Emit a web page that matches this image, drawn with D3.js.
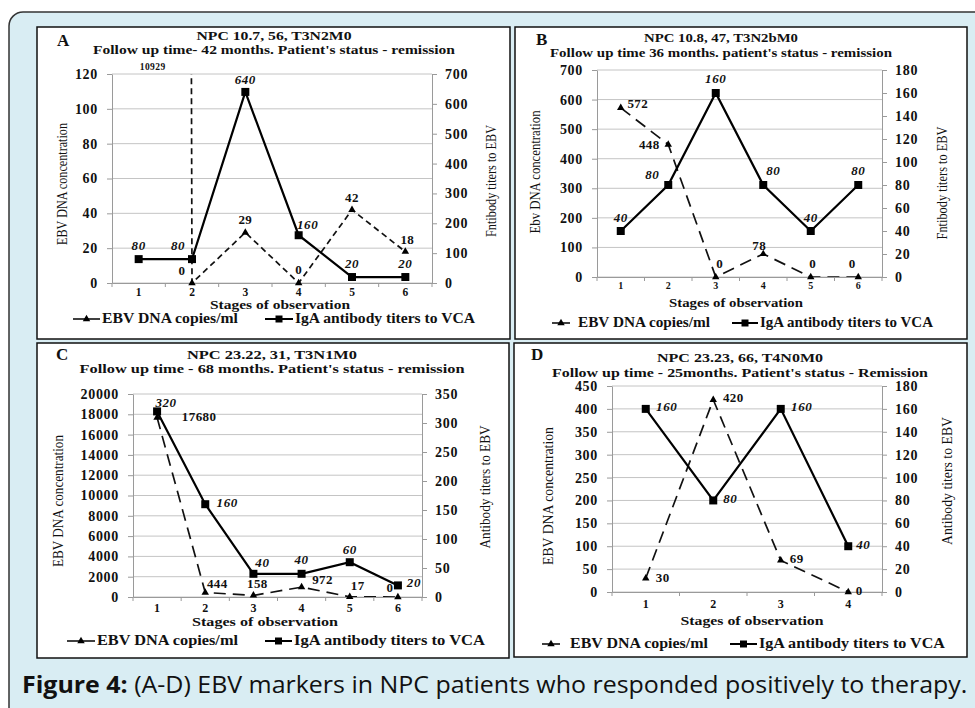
<!DOCTYPE html>
<html lang="en">
<head>
<meta charset="UTF-8">
<title>EBV markers in NPC patients</title>
<style>
  body { margin: 0; background: #fff; }
  svg text { font-family: "Liberation Serif", "Times New Roman", serif; font-weight: bold; fill: #111; }
</style>
</head>
<body>
<svg width="975" height="708"></svg>
<script src="https://d3js.org/d3.v7.min.js"></script>
<script>
// ---- data ----
const stagesA = [1, 2, 3, 4, 5, 6];
const ebvA = [10929, 0, 29, 0, 42, 18];
const igaA = [80, 80, 640, 160, 20, 20];

const stagesB = [1, 2, 3, 4, 5, 6];
const ebvB = [572, 448, 0, 78, 0, 0];
const igaB = [40, 80, 160, 80, 40, 80];

const stagesC = [1, 2, 3, 4, 5, 6];
const ebvC = [17680, 444, 158, 972, 17, 0];
const igaC = [320, 160, 40, 40, 60, 20];

const stagesD = [1, 2, 3, 4];
const ebvD = [30, 420, 69, 0];
const igaD = [160, 80, 160, 40];

const legendLabels = ["EBV DNA copies/ml", "IgA antibody titers to VCA"];
const xTitle = "Stages of observation";

const serif = "'Liberation Serif', 'Times New Roman', serif";
const svg = d3.select("svg");

// background + rounded frame
svg.append("rect").attr("width", 975).attr("height", 708).attr("fill", "#fff");
svg.append("rect")
    .attr("x", 9).attr("y", 12).attr("width", 1100).attr("height", 1000)
    .attr("rx", 14).attr("ry", 14)
    .attr("fill", "#d9edf3").attr("stroke", "#333").attr("stroke-width", 1.5);

const panels = [
  {
    letter: "A", box: [37, 27, 473, 312], letterPos: [57, 46],
    title1: "NPC 10.7, 56, T3N2M0", title2: "Follow up time- 42 months.  Patient's status - remission",
    titleX: 274, t1Y: 40, t2Y: 54, t1W: 155, t2W: 362, titleFont: 12.5,
    x0: 112, x1: 432, yTop: 74, yBot: 283,
    stages: stagesA, ebv: ebvA, iga: igaA,
    leftMax: 120, leftStep: 20, rightMax: 700, rightStep: 100, tickFont: 14,
    leftTitle: "EBV DNA concentration", lTX: 67, lTY: 184, lTL: 122,
    rightTitle: "Fntibody titers to EBV", rTX: 496, rTY: 181, rTL: 112,
    xLabY: 296, xLabFont: 11.5, xTX: 280, xTY: 309, xTW: 140,
    legY: 323, leg: [73, 100, 102, 136, 265, 293, 295, 180],
    ebvOff: [[14, -4], [-10, -8], [0, -8], [0, -9], [0, -8], [2, -8]],
    igaOff: [[0, -9], [-14, -9], [0, -8], [9, -6], [0, -9], [0, -9]],
    dash: "6,4"
  },
  {
    letter: "B", box: [515, 27, 452, 312], letterPos: [536, 45],
    title1: "NPC 10.8, 47, T3N2bM0", title2: "Follow up time 36 months. patient's status - remission",
    titleX: 721, t1Y: 42, t2Y: 57, t1W: 154, t2W: 342, titleFont: 13,
    x0: 597, x1: 882, yTop: 70, yBot: 277,
    stages: stagesB, ebv: ebvB, iga: igaB,
    leftMax: 700, leftStep: 100, rightMax: 180, rightStep: 20, tickFont: 14,
    leftTitle: "Ebv DNA concentration", lTX: 540, lTY: 172, lTL: 123,
    rightTitle: "Fntibody titers to EBV", rTX: 947, rTY: 183, rTL: 113,
    xLabY: 289, xLabFont: 10, xTX: 736, xTY: 307, xTW: 134,
    legY: 327, leg: [552, 570, 578, 132, 732, 758, 760, 173],
    ebvOff: [[17, 0], [-19, 4], [4, -9], [-4, -4], [2, -9], [-6, -9]],
    igaOff: [[0, -9], [-16, -6], [0, -10], [10, -10], [0, -9], [0, -10]],
    dash: "12,7"
  },
  {
    letter: "C", box: [37, 343, 472, 315], letterPos: [56, 360],
    title1: "NPC 23.22, 31, T3N1M0", title2: "Follow up time - 68 months. Patient's status - remission",
    titleX: 272, t1Y: 359, t2Y: 373, t1W: 170, t2W: 385, titleFont: 13,
    x0: 133, x1: 422, yTop: 394, yBot: 597,
    stages: stagesC, ebv: ebvC, iga: igaC,
    leftMax: 20000, leftStep: 2000, rightMax: 350, rightStep: 50, tickFont: 14,
    leftTitle: "EBV DNA concentration", lTX: 63, lTY: 501, lTL: 132,
    rightTitle: "Antibody titers to EBV", rTX: 490, rTY: 487, rTL: 123,
    xLabY: 612, xLabFont: 12, xTX: 265, xTY: 626, xTW: 146,
    legY: 645, leg: [67, 95, 97, 141, 265, 292, 294, 191],
    ebvOff: [[42, 3], [12, -4], [4, -7], [21, -3], [8, -7], [-8, -5]],
    igaOff: [[9, -4], [22, 3], [9, -7], [0, -10], [0, -8], [16, 2]],
    dash: "12,7"
  },
  {
    letter: "D", box: [514, 343, 453, 314], letterPos: [531, 360],
    title1: "NPC 23.23, 66, T4N0M0", title2: "Follow up time - 25months. Patient's status - Remission",
    titleX: 740, t1Y: 362, t2Y: 377, t1W: 166, t2W: 376, titleFont: 13,
    x0: 612, x1: 882, yTop: 386, yBot: 592,
    stages: stagesD, ebv: ebvD, iga: igaD,
    leftMax: 450, leftStep: 50, rightMax: 180, rightStep: 20, tickFont: 14,
    leftTitle: "EBV DNA concentration", lTX: 553, lTY: 496, lTL: 138,
    rightTitle: "Antibody titers to EBV", rTX: 952, rTY: 481, rTL: 128,
    xLabY: 608, xLabFont: 12, xTX: 752, xTY: 625, xTW: 143,
    legY: 648, leg: [542, 560, 570, 138, 730, 757, 759, 186],
    ebvOff: [[17, 4], [20, 2], [16, 3], [11, 3]],
    igaOff: [[21, 2], [17, 3], [21, 2], [15, 3]],
    dash: "12,7"
  }
];

panels.forEach((p, pi) => {
  const g = svg.append("g");
  const [bx, by, bw, bh] = p.box;
  g.append("rect").attr("x", bx).attr("y", by).attr("width", bw).attr("height", bh)
      .attr("fill", "#fff").attr("stroke", "#111").attr("stroke-width", 1.5);

  g.append("text").attr("x", p.letterPos[0]).attr("y", p.letterPos[1])
      .attr("font-size", 17).text(p.letter);
  g.append("text").attr("x", p.titleX).attr("y", p.t1Y).attr("text-anchor", "middle")
      .attr("font-size", p.titleFont).attr("textLength", p.t1W).attr("lengthAdjust", "spacingAndGlyphs").text(p.title1);
  g.append("text").attr("x", p.titleX).attr("y", p.t2Y).attr("text-anchor", "middle")
      .attr("font-size", p.titleFont).attr("textLength", p.t2W).attr("lengthAdjust", "spacingAndGlyphs").text(p.title2);

  const x = d3.scaleBand().domain(p.stages).range([p.x0, p.x1]).padding(0);
  const yL = d3.scaleLinear().domain([0, p.leftMax]).range([p.yBot, p.yTop]);
  const yR = d3.scaleLinear().domain([0, p.rightMax]).range([p.yBot, p.yTop]);
  const cx = d => x(d) + x.bandwidth() / 2;

  const leftTicks = d3.range(0, p.leftMax + p.leftStep / 2, p.leftStep);
  const rightTicks = d3.range(0, p.rightMax + p.rightStep / 2, p.rightStep);

  // gridlines
  g.append("g").selectAll("line").data(leftTicks).join("line")
      .attr("x1", p.x0).attr("x2", p.x1)
      .attr("y1", d => yL(d)).attr("y2", d => yL(d))
      .attr("stroke", "#c4c4c4").attr("stroke-width", 1);

  // axes
  const axL = g.append("g").attr("transform", `translate(${p.x0},0)`)
      .call(d3.axisLeft(yL).tickValues(leftTicks).tickFormat(d3.format("d"))
          .tickSize(5).tickPadding(9).tickSizeOuter(0));
  const axR = g.append("g").attr("transform", `translate(${p.x1},0)`)
      .call(d3.axisRight(yR).tickValues(rightTicks).tickFormat(d3.format("d"))
          .tickSize(5).tickPadding(8).tickSizeOuter(0));
  const axB = g.append("g").attr("transform", `translate(0,${p.yBot})`)
      .call(d3.axisBottom(x).tickSize(0).tickPadding(p.xLabY - p.yBot - p.xLabFont * 0.72).tickSizeOuter(0));
  [axL, axR, axB].forEach(a => {
    a.attr("font-family", null);
    a.select(".domain").attr("stroke", "#9a9a9a");
    a.selectAll(".tick line").attr("stroke", "#9a9a9a");
    a.selectAll("text").style("font-family", serif).style("font-weight", "bold")
        .attr("fill", "#111").attr("font-size", p.tickFont).attr("letter-spacing", 0.7);
  });
  axB.selectAll("text").attr("font-size", p.xLabFont).attr("letter-spacing", 0);
  // minor ticks at band boundaries
  g.append("g").selectAll("line").data(p.stages.concat([null])).join("line")
      .attr("x1", (d, i) => p.x0 + i * x.step()).attr("x2", (d, i) => p.x0 + i * x.step())
      .attr("y1", p.yBot).attr("y2", p.yBot + 4)
      .attr("stroke", "#9a9a9a");

  // axis titles
  g.append("text").attr("transform", `translate(${p.lTX},${p.lTY}) rotate(-90)`)
      .attr("text-anchor", "middle").attr("font-size", 14).style("font-weight", "normal")
      .attr("textLength", p.lTL).attr("lengthAdjust", "spacingAndGlyphs").text(p.leftTitle);
  g.append("text").attr("transform", `translate(${p.rTX},${p.rTY}) rotate(-90)`)
      .attr("text-anchor", "middle").attr("font-size", 14).style("font-weight", "normal")
      .attr("textLength", p.rTL).attr("lengthAdjust", "spacingAndGlyphs").text(p.rightTitle);
  g.append("text").attr("x", p.xTX).attr("y", p.xTY).attr("text-anchor", "middle")
      .attr("font-size", 12.5).attr("textLength", p.xTW).attr("lengthAdjust", "spacingAndGlyphs").text(xTitle);

  // EBV DNA dashed line (clipped to plot area so out-of-range values run off the top)
  const clipId = "clip" + pi;
  g.append("clipPath").attr("id", clipId).append("rect")
      .attr("x", p.x0).attr("y", p.yTop).attr("width", p.x1 - p.x0).attr("height", p.yBot - p.yTop);
  const ebvPts = p.stages.map((s, i) => [cx(s), yL(p.ebv[i])]);
  g.append("path").attr("d", d3.line()(ebvPts))
      .attr("clip-path", `url(#${clipId})`)
      .attr("fill", "none").attr("stroke", "#111").attr("stroke-width", 1.7)
      .attr("stroke-dasharray", p.dash);

  // IgA solid line
  const igaPts = p.stages.map((s, i) => [cx(s), yR(p.iga[i])]);
  g.append("path").attr("d", d3.line()(igaPts))
      .attr("fill", "none").attr("stroke", "#000").attr("stroke-width", 2.2);

  const tri = d3.symbol(d3.symbolTriangle, 24);
  const sq = d3.symbol(d3.symbolSquare, 64);
  g.append("g").selectAll("path").data(p.stages.filter((s, i) => p.ebv[i] <= p.leftMax)).join("path")
      .attr("transform", s => `translate(${cx(s)},${yL(p.ebv[p.stages.indexOf(s)])})`)
      .attr("d", tri).attr("fill", "#000");
  g.append("g").selectAll("path").data(p.stages).join("path")
      .attr("transform", (s, i) => `translate(${cx(s)},${yR(p.iga[i])})`)
      .attr("d", sq).attr("fill", "#000");

  // data labels
  g.append("g").selectAll("text").data(p.stages).join("text")
      .attr("x", (s, i) => cx(s) + p.ebvOff[i][0])
      .attr("y", (s, i) => (p.ebv[i] > p.leftMax ? p.yTop : yL(p.ebv[i])) + p.ebvOff[i][1])
      .attr("text-anchor", "middle")
      .attr("font-size", (s, i) => p.ebv[i] > p.leftMax ? 9.5 : 13)
      .attr("letter-spacing", 0.4)
      .text((s, i) => p.ebv[i]);
  g.append("g").selectAll("text").data(p.stages).join("text")
      .attr("x", (s, i) => cx(s) + p.igaOff[i][0])
      .attr("y", (s, i) => yR(p.iga[i]) + p.igaOff[i][1])
      .attr("text-anchor", "middle").attr("font-style", "italic")
      .attr("font-size", 13).attr("letter-spacing", 0.6)
      .text((s, i) => p.iga[i]);

  // legend
  const [m1a, m1b, t1x, t1w, m2a, m2b, t2x, t2w] = p.leg;
  const ly = p.legY - 4;
  g.append("line").attr("x1", m1a).attr("x2", m1b).attr("y1", ly).attr("y2", ly)
      .attr("stroke", "#000").attr("stroke-width", 1.5);
  g.append("path").attr("transform", `translate(${(m1a + m1b) / 2},${ly})`).attr("d", tri).attr("fill", "#000");
  g.append("text").attr("x", t1x).attr("y", p.legY).attr("font-size", 14.5)
      .attr("textLength", t1w).attr("lengthAdjust", "spacingAndGlyphs").text(legendLabels[0]);
  g.append("line").attr("x1", m2a).attr("x2", m2b).attr("y1", ly).attr("y2", ly)
      .attr("stroke", "#000").attr("stroke-width", 2);
  g.append("path").attr("transform", `translate(${(m2a + m2b) / 2},${ly})`).attr("d", d3.symbol(d3.symbolSquare, 49)).attr("fill", "#000");
  g.append("text").attr("x", t2x).attr("y", p.legY).attr("font-size", 14.5)
      .attr("textLength", t2w).attr("lengthAdjust", "spacingAndGlyphs").text(legendLabels[1]);
});

// caption
const cap = svg.append("text").attr("x", 22).attr("y", 693)
    .style("font-family", "'Open Sans', 'Noto Sans', sans-serif").style("font-weight", "normal")
    .attr("font-size", 24).attr("fill", "#111");
cap.append("tspan").style("font-weight", "bold").text("Figure 4:");
cap.append("tspan").text(" (A-D) EBV markers in NPC patients who responded positively to therapy.");
const capW = cap.node().getComputedTextLength();
cap.attr("transform", `translate(22,0) scale(${946 / capW},1) translate(-22,0)`);
</script>
</body>
</html>
